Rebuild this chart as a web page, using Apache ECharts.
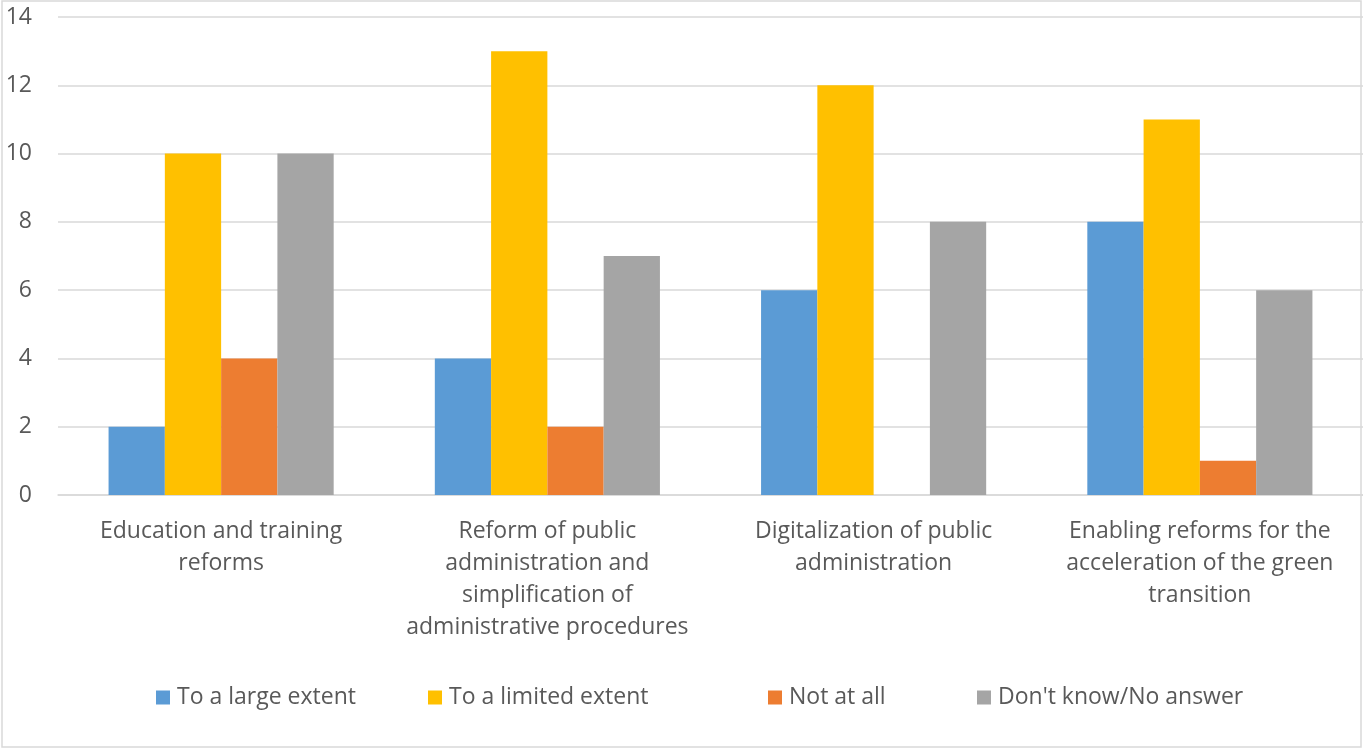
<!DOCTYPE html>
<html>
<head>
<meta charset="utf-8">
<script src="https://cdn.jsdelivr.net/npm/echarts@6/dist/echarts.min.js"></script>
<style>
html,body{margin:0;padding:0;background:#fff;}
#c{width:1363px;height:749px;}
</style>
</head>
<body>
<div id="c"></div>
<script>
const categories = [
  "Education and training\nreforms",
  "Reform of public\nadministration and\nsimplification of\nadministrative procedures",
  "Digitalization of public\nadministration",
  "Enabling reforms for the\nacceleration of the green\ntransition"
];
const seriesNames = ["To a large extent", "To a limited extent", "Not at all", "Don't know/No answer"];
const largeExtent = [2, 4, 6, 8];
const limitedExtent = [10, 13, 12, 11];
const notAtAll = [4, 2, 0, 1];
const dontKnow = [10, 7, 8, 6];
const colors = ["#5B9BD5", "#FFC000", "#ED7D31", "#A5A5A5"];
const values = [largeExtent, limitedExtent, notAtAll, dontKnow];

const font = "'Open Sans', sans-serif";
const textColor = "#595959";
const fs = 23;
const legendLefts = [156, 428, 768, 977];

const chart = echarts.init(document.getElementById('c'));
chart.setOption({
  animation: false,
  color: colors,
  textStyle: { fontFamily: font },
  graphic: [{
    type: 'rect', silent: true, z: 100,
    shape: { x: 2, y: 1, width: 1359, height: 746 },
    style: { fill: 'none', stroke: '#d9d9d9', lineWidth: 1.5 }
  }],
  grid: { left: 58, right: 0, top: 17, bottom: 254, containLabel: false },
  legend: seriesNames.map((n, i) => ({
    data: [n],
    left: legendLefts[i],
    top: 686,
    padding: 0,
    itemWidth: 14, itemHeight: 14,
    icon: 'rect',
    itemGap: 0,
    textStyle: { color: textColor, fontSize: fs, fontFamily: font, padding: [0, 0, 0, 2] }
  })),
  xAxis: {
    type: 'category',
    data: categories,
    axisLine: { show: true, lineStyle: { color: '#d9d9d9', width: 1.5 } },
    axisTick: { show: false },
    axisLabel: { color: textColor, fontSize: fs, fontFamily: font, lineHeight: 32, margin: 20, interval: 0 }
  },
  yAxis: {
    type: 'value',
    min: 0, max: 14, interval: 2,
    axisLine: { show: false },
    axisTick: { show: false },
    axisLabel: { color: textColor, fontSize: fs, fontFamily: font, margin: 26 },
    splitLine: { lineStyle: { color: '#d9d9d9', width: 1.5 } }
  },
  series: seriesNames.map((n, i) => ({
    name: n,
    type: 'bar',
    data: values[i],
    barGap: '0%',
    barCategoryGap: '31%'
  }))
});
</script>
</body>
</html>
